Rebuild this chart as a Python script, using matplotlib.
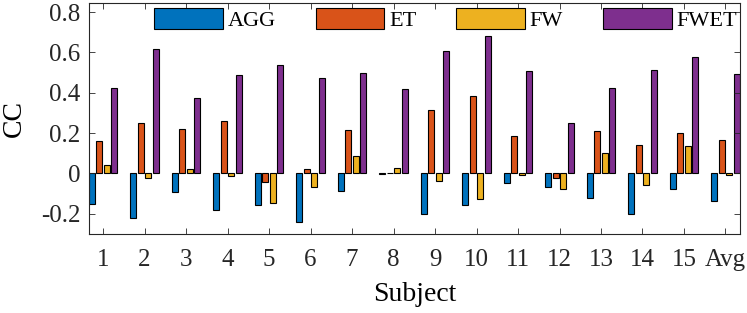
import numpy as np
import matplotlib.pyplot as plt
from matplotlib.ticker import MultipleLocator

# CC per subject for each feature set
subjects = ['1', '2', '3', '4', '5', '6', '7', '8', '9', '10', '11', '12', '13', '14', '15', 'Avg']
agg = [-0.149, -0.219, -0.090, -0.182, -0.154, -0.239, -0.086, -0.003,
       -0.202, -0.158, -0.048, -0.065, -0.123, -0.199, -0.078, -0.134]
et = [0.159, 0.252, 0.219, 0.259, -0.043, 0.020, 0.217, 0.002,
      0.313, 0.386, 0.186, -0.023, 0.211, 0.143, 0.201, 0.166]
fw = [0.043, -0.020, 0.022, -0.013, -0.144, -0.065, 0.085, 0.025,
      -0.035, -0.126, -0.007, -0.075, 0.101, -0.055, 0.136, -0.010]
fwet = [0.426, 0.619, 0.375, 0.489, 0.536, 0.474, 0.496, 0.418,
        0.609, 0.682, 0.507, 0.250, 0.423, 0.514, 0.579, 0.493]

names = ['AGG', 'ET', 'FW', 'FWET']
colors = ['#0072BD', '#D95319', '#EDB120', '#7E2F8E']

plt.rcParams['font.family'] = ['Liberation Serif', 'DejaVu Serif']
plt.rcParams['axes.edgecolor'] = '#262626'

fig = plt.figure(figsize=(7.47, 3.13), dpi=100)
ax = fig.add_axes([89/747, 1 - 234/313, 651/747, 231/313])

x = np.arange(1, len(subjects) + 1)
step = 0.18
width = 0.145
for i, (vals, name, c) in enumerate(zip([agg, et, fw, fwet], names, colors)):
  ax.bar(x + (i - 1.5) * step, vals, width, color=c, edgecolor='k',
         linewidth=0.8, label=name)

ax.set_xlim(0.66, 16.35)
ax.set_ylim(-0.3, 0.845)
ax.set_xticks(x)
ax.set_xticklabels(subjects)
ax.yaxis.set_major_locator(MultipleLocator(0.2))
ax.yaxis.set_major_formatter(plt.FuncFormatter(lambda v, p: '0' if abs(v) < 1e-9 else '%g' % v))
ax.tick_params(direction='in', length=4, width=0.6, top=True, right=True,
               labelsize=18, colors='#262626')
ax.tick_params(axis='x', pad=11)
ax.tick_params(axis='y', pad=6)
for s in ax.spines.values():
  s.set_linewidth(0.8)

ax.set_xlabel('Subject', fontsize=20, labelpad=8)
ax.set_ylabel('CC', fontsize=20, labelpad=10)

ax.legend(ncol=4, loc='upper left', bbox_to_anchor=(0.1, 0.978), frameon=False,
          fontsize=16, handlelength=3.1, handleheight=1.1, handletextpad=0.2,
          columnspacing=1.8, borderpad=0, borderaxespad=0)

fig.savefig('out.png', dpi=100)
